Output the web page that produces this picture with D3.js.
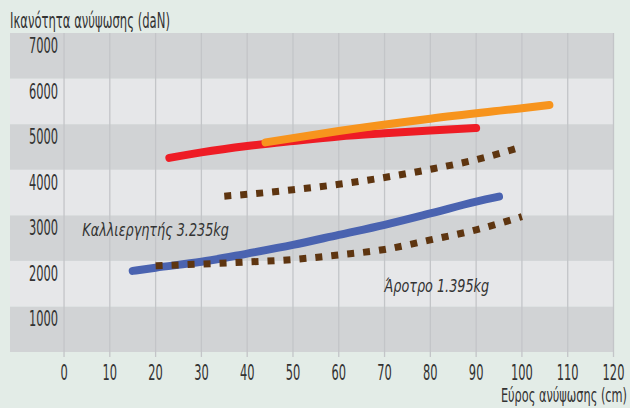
<!DOCTYPE html>
<html>
<head>
<meta charset="utf-8">
<script src="https://cdn.jsdelivr.net/npm/d3@7"></script>
<style>
  body { margin: 0; background: #e3ece7; }
  svg { display: block; }
  text { font-family: "DejaVu Sans Condensed", "DejaVu Sans", sans-serif; fill: #333; }
</style>
</head>
<body>
<script>
// data
var xTicks = [0, 10, 20, 30, 40, 50, 60, 70, 80, 90, 100, 110, 120];
var yTicks = [1000, 2000, 3000, 4000, 5000, 6000, 7000];

var redLine = [[23, 4260], [30, 4380], [40, 4520], [50, 4630], [60, 4730], [70, 4800], [80, 4860], [90, 4915]];
var orangeLine = [[44, 4600], [60, 4850], [80, 5120], [100, 5350], [106, 5420]];
var upperDots = [[35, 3420], [40, 3460], [50, 3560], [60, 3680], [70, 3830], [80, 4010], [90, 4220], [100, 4500]];
var blueLine = [[15, 1780], [20, 1850], [30, 1980], [40, 2160], [50, 2350], [60, 2570], [70, 2790], [80, 3040], [90, 3300], [95, 3410]];
var lowerDots = [[20, 1890], [30, 1930], [40, 1975], [50, 2030], [60, 2130], [70, 2250], [80, 2460], [90, 2680], [100, 2970]];

var notes = [
    { text: "Καλλιεργητής 3.235kg", x: 4, y: 2550 },
    { text: "Άροτρο 1.395kg", x: 70, y: 1320 }
];

var width = 630, height = 408;

var svg = d3.select("body").append("svg")
    .attr("width", width)
    .attr("height", height);

var x = d3.scaleLinear().domain([-11.8, 120]).range([10, 613.5]);
var y = d3.scaleLinear().domain([0, 7000]).range([352, 33]);

// bands
var bands = d3.range(0, 7000, 1000);
svg.selectAll("rect.band")
    .data(bands)
    .enter().append("rect")
    .attr("class", "band")
    .attr("x", x(-11.8))
    .attr("width", x(120) - x(-11.8))
    .attr("y", function(d) { return y(d + 1000); })
    .attr("height", function(d) { return y(d) - y(d + 1000); })
    .attr("fill", function(d) { return (d / 1000) % 2 == 0 ? "#d1d3d5" : "#e6e7e9"; });

// vertical grid
svg.selectAll("line.grid")
    .data(xTicks)
    .enter().append("line")
    .attr("x1", function(d) { return x(d); })
    .attr("x2", function(d) { return x(d); })
    .attr("y1", y(7000))
    .attr("y2", y(0) + 5)
    .attr("stroke", "#c3c5c8")
    .attr("stroke-width", 1.3);

// tick labels
svg.selectAll("text.xt")
    .data(xTicks)
    .enter().append("text")
    .attr("transform", function(d) { return "translate(" + x(d) + "," + (y(0) + 27.5) + ") scale(0.62,1)"; })
    .attr("text-anchor", "middle")
    .attr("font-size", 20.5)
    .text(function(d) { return d; });

svg.selectAll("text.yt")
    .data(yTicks)
    .enter().append("text")
    .attr("transform", function(d) { return "translate(58," + (y(d) + 20) + ") scale(0.62,1)"; })
    .attr("text-anchor", "end")
    .attr("font-size", 20.5)
    .text(function(d) { return d; });

svg.append("text")
    .attr("transform", "translate(10,28) scale(0.63,1)")
    .attr("font-size", 20.5)
    .text("Ικανότητα ανύψωσης (daN)");

svg.append("text")
    .attr("transform", "translate(627,402) scale(0.63,1)")
    .attr("text-anchor", "end")
    .attr("font-size", 20)
    .text("Εύρος ανύψωσης (cm)");

var line = d3.line()
    .x(function(d) { return x(d[0]); })
    .y(function(d) { return y(d[1]); })
    .curve(d3.curveMonotoneX);

function drawSolid(data, color) {
    svg.append("path")
        .attr("d", line(data))
        .attr("fill", "none")
        .attr("stroke", color)
        .attr("stroke-width", 8)
        .attr("stroke-linecap", "round");
}

function drawDots(data) {
    svg.append("path")
        .attr("d", line(data))
        .attr("fill", "none")
        .attr("stroke", "#5e3510")
        .attr("stroke-width", 7)
        .attr("stroke-dasharray", "7,9");
}

drawDots(upperDots);
drawSolid(blueLine, "#4a63b0");
drawDots(lowerDots);
drawSolid(redLine, "#ee1c25");
drawSolid(orangeLine, "#f7941d");

svg.selectAll("text.note")
    .data(notes)
    .enter().append("text")
    .attr("transform", function(d) { return "translate(" + x(d.x) + "," + y(d.y) + ") scale(0.79,1)"; })
    .attr("font-size", 18)
    .attr("font-style", "italic")
    .text(function(d) { return d.text; });
</script>
</body>
</html>
